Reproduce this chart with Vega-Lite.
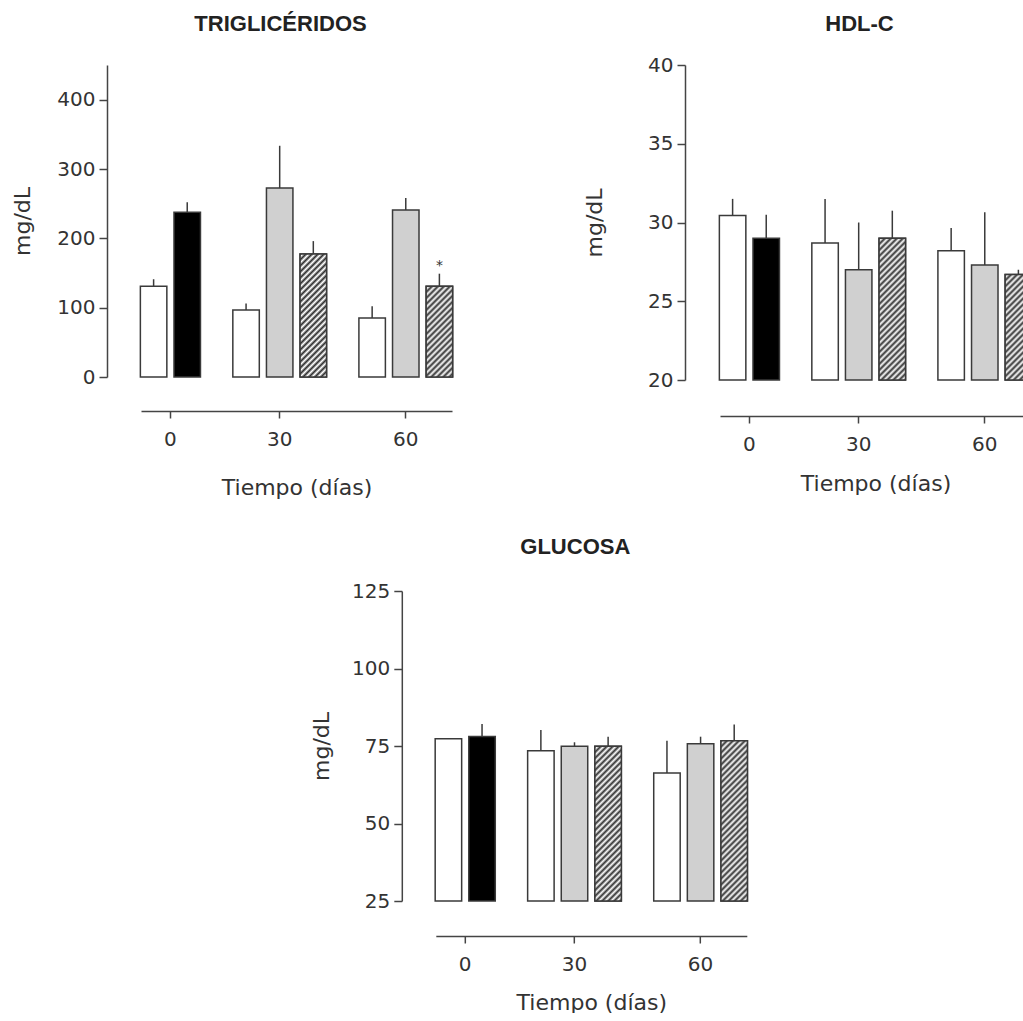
{
  "$schema": "https://vega.github.io/schema/vega-lite/v6.json",
  "padding": {"left": 11, "top": 13, "right": 0, "bottom": 0},
  "params": [
    {"name": "rayas", "value": [
      {"offset": 0, "color": "#303030"}, {"offset": 0.0125, "color": "#ffffff"},
      {"offset": 0.025, "color": "#303030"}, {"offset": 0.0375, "color": "#ffffff"},
      {"offset": 0.05, "color": "#303030"}, {"offset": 0.0625, "color": "#ffffff"},
      {"offset": 0.075, "color": "#303030"}, {"offset": 0.0875, "color": "#ffffff"},
      {"offset": 0.1, "color": "#303030"}, {"offset": 0.1125, "color": "#ffffff"},
      {"offset": 0.125, "color": "#303030"}, {"offset": 0.1375, "color": "#ffffff"},
      {"offset": 0.15, "color": "#303030"}, {"offset": 0.1625, "color": "#ffffff"},
      {"offset": 0.175, "color": "#303030"}, {"offset": 0.1875, "color": "#ffffff"},
      {"offset": 0.2, "color": "#303030"}, {"offset": 0.2125, "color": "#ffffff"},
      {"offset": 0.225, "color": "#303030"}, {"offset": 0.2375, "color": "#ffffff"},
      {"offset": 0.25, "color": "#303030"}, {"offset": 0.2625, "color": "#ffffff"},
      {"offset": 0.275, "color": "#303030"}, {"offset": 0.2875, "color": "#ffffff"},
      {"offset": 0.3, "color": "#303030"}, {"offset": 0.3125, "color": "#ffffff"},
      {"offset": 0.325, "color": "#303030"}, {"offset": 0.3375, "color": "#ffffff"},
      {"offset": 0.35, "color": "#303030"}, {"offset": 0.3625, "color": "#ffffff"},
      {"offset": 0.375, "color": "#303030"}, {"offset": 0.3875, "color": "#ffffff"},
      {"offset": 0.4, "color": "#303030"}, {"offset": 0.4125, "color": "#ffffff"},
      {"offset": 0.425, "color": "#303030"}, {"offset": 0.4375, "color": "#ffffff"},
      {"offset": 0.45, "color": "#303030"}, {"offset": 0.4625, "color": "#ffffff"},
      {"offset": 0.475, "color": "#303030"}, {"offset": 0.4875, "color": "#ffffff"},
      {"offset": 0.5, "color": "#303030"}, {"offset": 0.5125, "color": "#ffffff"},
      {"offset": 0.525, "color": "#303030"}, {"offset": 0.5375, "color": "#ffffff"},
      {"offset": 0.55, "color": "#303030"}, {"offset": 0.5625, "color": "#ffffff"},
      {"offset": 0.575, "color": "#303030"}, {"offset": 0.5875, "color": "#ffffff"},
      {"offset": 0.6, "color": "#303030"}, {"offset": 0.6125, "color": "#ffffff"},
      {"offset": 0.625, "color": "#303030"}, {"offset": 0.6375, "color": "#ffffff"},
      {"offset": 0.65, "color": "#303030"}, {"offset": 0.6625, "color": "#ffffff"},
      {"offset": 0.675, "color": "#303030"}, {"offset": 0.6875, "color": "#ffffff"},
      {"offset": 0.7, "color": "#303030"}, {"offset": 0.7125, "color": "#ffffff"},
      {"offset": 0.725, "color": "#303030"}, {"offset": 0.7375, "color": "#ffffff"},
      {"offset": 0.75, "color": "#303030"}, {"offset": 0.7625, "color": "#ffffff"},
      {"offset": 0.775, "color": "#303030"}, {"offset": 0.7875, "color": "#ffffff"},
      {"offset": 0.8, "color": "#303030"}
    ]}
  ],
  "data": {"values": [
    {"analito": "TRIGLICÉRIDOS", "tiempo": 0, "grupo": "Control", "media": 131, "sup": 141, "sig": ""},
    {"analito": "TRIGLICÉRIDOS", "tiempo": 0, "grupo": "Basal", "media": 237.5, "sup": 252, "sig": ""},
    {"analito": "TRIGLICÉRIDOS", "tiempo": 30, "grupo": "Control", "media": 96.5, "sup": 106, "sig": ""},
    {"analito": "TRIGLICÉRIDOS", "tiempo": 30, "grupo": "Tratamiento A", "media": 272.5, "sup": 333.5, "sig": ""},
    {"analito": "TRIGLICÉRIDOS", "tiempo": 30, "grupo": "Tratamiento B", "media": 177.5, "sup": 196, "sig": ""},
    {"analito": "TRIGLICÉRIDOS", "tiempo": 60, "grupo": "Control", "media": 85, "sup": 102, "sig": ""},
    {"analito": "TRIGLICÉRIDOS", "tiempo": 60, "grupo": "Tratamiento A", "media": 241, "sup": 258, "sig": ""},
    {"analito": "TRIGLICÉRIDOS", "tiempo": 60, "grupo": "Tratamiento B", "media": 131, "sup": 149, "sig": "*"},
    {"analito": "HDL-C", "tiempo": 0, "grupo": "Control", "media": 30.45, "sup": 31.5, "sig": ""},
    {"analito": "HDL-C", "tiempo": 0, "grupo": "Basal", "media": 29.0, "sup": 30.5, "sig": ""},
    {"analito": "HDL-C", "tiempo": 30, "grupo": "Control", "media": 28.7, "sup": 31.5, "sig": ""},
    {"analito": "HDL-C", "tiempo": 30, "grupo": "Tratamiento A", "media": 27.0, "sup": 30.0, "sig": ""},
    {"analito": "HDL-C", "tiempo": 30, "grupo": "Tratamiento B", "media": 29.0, "sup": 30.75, "sig": ""},
    {"analito": "HDL-C", "tiempo": 60, "grupo": "Control", "media": 28.2, "sup": 29.65, "sig": ""},
    {"analito": "HDL-C", "tiempo": 60, "grupo": "Tratamiento A", "media": 27.3, "sup": 30.65, "sig": ""},
    {"analito": "HDL-C", "tiempo": 60, "grupo": "Tratamiento B", "media": 26.7, "sup": 27.0, "sig": ""},
    {"analito": "GLUCOSA", "tiempo": 0, "grupo": "Control", "media": 77.3, "sup": 77.3, "sig": ""},
    {"analito": "GLUCOSA", "tiempo": 0, "grupo": "Basal", "media": 78.1, "sup": 82.1, "sig": ""},
    {"analito": "GLUCOSA", "tiempo": 30, "grupo": "Control", "media": 73.5, "sup": 80.2, "sig": ""},
    {"analito": "GLUCOSA", "tiempo": 30, "grupo": "Tratamiento A", "media": 74.9, "sup": 76.2, "sig": ""},
    {"analito": "GLUCOSA", "tiempo": 30, "grupo": "Tratamiento B", "media": 74.9, "sup": 78.0, "sig": ""},
    {"analito": "GLUCOSA", "tiempo": 60, "grupo": "Control", "media": 66.3, "sup": 76.7, "sig": ""},
    {"analito": "GLUCOSA", "tiempo": 60, "grupo": "Tratamiento A", "media": 75.7, "sup": 78.0, "sig": ""},
    {"analito": "GLUCOSA", "tiempo": 60, "grupo": "Tratamiento B", "media": 76.7, "sup": 81.9, "sig": ""}
  ]},
  "spacing": 38,
  "center": true,
  "vconcat": [
    {
      "spacing": 129,
      "hconcat": [
        {
          "width": 311, "height": 312,
          "title": {"text": "TRIGLICÉRIDOS", "frame": "group", "dx": -16, "offset": 29},
          "transform": [
            {"filter": "datum.analito === 'TRIGLICÉRIDOS'"},
            {"calculate": "datum.tiempo + '|' + datum.grupo", "as": "barra"}
          ],
          "encoding": {
            "x": {"field": "barra", "type": "nominal",
              "scale": {"domain": ["0|Control","·1","0","·3","0|Basal","·5","·6","·7","·8","·9","·10","30|Control","·12","·13","·14","30|Tratamiento A","·16","·17","·18","30|Tratamiento B","·20","·21","·22","·23","·24","·25","60|Control","·27","·28","·29","60|Tratamiento A","·31","·32","·33","60|Tratamiento B"], "paddingInner": 0, "paddingOuter": 1},
              "axis": {"values": ["0", "30|Tratamiento A", "60|Tratamiento A"], "labelExpr": "split(datum.value, '|')[0]", "title": "Tiempo (días)"}}
          },
          "layer": [
            {"mark": {"type": "bar", "width": {"band": 3.15}, "stroke": "#3a3a3a", "strokeWidth": 1.5},
             "encoding": {
               "y": {"field": "media", "type": "quantitative", "title": "mg/dL", "scale": {"domain": [0, 450], "nice": false, "zero": false}, "axis": {"values": [0, 100, 200, 300, 400], "titlePadding": 22}},
               "y2": {"datum": 0},
               "color": {"field": "grupo", "type": "nominal", "legend": null, "scale": {"domain": ["Control", "Basal", "Tratamiento A", "Tratamiento B"], "range": ["#ffffff", "#000000", "#d0d0d0", "#ffffff"]}}
             }},
            {"transform": [{"filter": "datum.grupo === 'Tratamiento B'"}],
             "mark": {"type": "bar", "width": {"band": 3.15}, "stroke": "#3a3a3a", "strokeWidth": 1.5,
               "fill": {"expr": "{gradient: 'linear', x1: 0, y1: 0, x2: 240*26.5/(702.25 + pow(datum.media*0.693333, 2)), y2: 240*datum.media*0.693333/(702.25 + pow(datum.media*0.693333, 2)), stops: rayas}"}},
             "encoding": {"y": {"field": "media", "type": "quantitative", "title": "mg/dL"}, "y2": {"datum": 0}}},
            {"mark": {"type": "rule", "stroke": "#3a3a3a", "strokeWidth": 1.5},
             "encoding": {"y": {"field": "media", "type": "quantitative", "title": "mg/dL"}, "y2": {"field": "sup"}}},
            {"mark": {"type": "text", "baseline": "bottom", "dy": -1, "fontSize": 14, "font": "DejaVu Sans", "color": "#333"},
             "encoding": {"y": {"field": "sup", "type": "quantitative", "title": "mg/dL"}, "text": {"field": "sig"}}}
          ]
        },
        {
          "width": 311, "height": 315,
          "title": {"text": "HDL-C", "frame": "group", "dx": -16, "offset": 19},
          "transform": [
            {"filter": "datum.analito === 'HDL-C'"},
            {"calculate": "datum.tiempo + '|' + datum.grupo", "as": "barra"}
          ],
          "resolve": {"axis": {"y": "independent"}},
          "encoding": {
            "x": {"field": "barra", "type": "nominal",
              "scale": {"domain": ["0|Control","·1","0","·3","0|Basal","·5","·6","·7","·8","·9","·10","30|Control","·12","·13","·14","30|Tratamiento A","·16","·17","·18","30|Tratamiento B","·20","·21","·22","·23","·24","·25","60|Control","·27","·28","·29","60|Tratamiento A","·31","·32","·33","60|Tratamiento B"], "paddingInner": 0, "paddingOuter": 1},
              "axis": {"values": ["0", "30|Tratamiento A", "60|Tratamiento A"], "labelExpr": "split(datum.value, '|')[0]", "title": "Tiempo (días)", "offset": 36, "titlePadding": 19}}
          },
          "layer": [
            {"mark": {"type": "bar", "width": {"band": 3.15}, "stroke": "#3a3a3a", "strokeWidth": 1.5},
             "encoding": {
               "y": {"field": "media", "type": "quantitative", "title": "mg/dL", "scale": {"domain": [20, 40], "nice": false, "zero": false}, "axis": {"orient": "left", "values": [20, 25, 30, 35, 40], "titlePadding": 41, "offset": 35}},
               "y2": {"datum": 20},
               "color": {"field": "grupo", "type": "nominal", "legend": null, "scale": {"domain": ["Control", "Basal", "Tratamiento A", "Tratamiento B"], "range": ["#ffffff", "#000000", "#d0d0d0", "#ffffff"]}}
             }},
            {"transform": [{"filter": "datum.grupo === 'Tratamiento B'"}],
             "mark": {"type": "bar", "width": {"band": 3.15}, "stroke": "#3a3a3a", "strokeWidth": 1.5,
               "fill": {"expr": "{gradient: 'linear', x1: 0, y1: 0, x2: 240*26.5/(702.25 + pow((datum.media-20)*15.75, 2)), y2: 240*(datum.media-20)*15.75/(702.25 + pow((datum.media-20)*15.75, 2)), stops: rayas}"}},
             "encoding": {"y": {"field": "media", "type": "quantitative", "title": "mg/dL", "axis": null}, "y2": {"datum": 20}}},
            {"mark": {"type": "rule", "stroke": "#3a3a3a", "strokeWidth": 1.5},
             "encoding": {"y": {"field": "media", "type": "quantitative", "axis": {"orient": "right", "offset": 12, "labels": false, "ticks": false, "title": null}}, "y2": {"field": "sup"}}}
          ]
        }
      ]
    },
    {
      "width": 311, "height": 310,
      "title": {"text": "GLUCOSA", "frame": "group", "dx": -16, "offset": 22},
      "transform": [
        {"filter": "datum.analito === 'GLUCOSA'"},
        {"calculate": "datum.tiempo + '|' + datum.grupo", "as": "barra"}
      ],
      "encoding": {
        "x": {"field": "barra", "type": "nominal",
          "scale": {"domain": ["0|Control","·1","0","·3","0|Basal","·5","·6","·7","·8","·9","·10","30|Control","·12","·13","·14","30|Tratamiento A","·16","·17","·18","30|Tratamiento B","·20","·21","·22","·23","·24","·25","60|Control","·27","·28","·29","60|Tratamiento A","·31","·32","·33","60|Tratamiento B"], "paddingInner": 0, "paddingOuter": 1},
          "axis": {"values": ["0", "30|Tratamiento A", "60|Tratamiento A"], "labelExpr": "split(datum.value, '|')[0]", "title": "Tiempo (días)", "offset": 35, "titlePadding": 18}}
      },
      "layer": [
        {"mark": {"type": "bar", "width": {"band": 3.15}, "stroke": "#3a3a3a", "strokeWidth": 1.5},
         "encoding": {
           "y": {"field": "media", "type": "quantitative", "title": "mg/dL", "scale": {"domain": [25, 125], "nice": false, "zero": false}, "axis": {"values": [25, 50, 75, 100, 125], "titlePadding": 18}},
           "y2": {"datum": 25},
           "color": {"field": "grupo", "type": "nominal", "legend": null, "scale": {"domain": ["Control", "Basal", "Tratamiento A", "Tratamiento B"], "range": ["#ffffff", "#000000", "#d0d0d0", "#ffffff"]}}
         }},
        {"transform": [{"filter": "datum.grupo === 'Tratamiento B'"}],
         "mark": {"type": "bar", "width": {"band": 3.15}, "stroke": "#3a3a3a", "strokeWidth": 1.5,
           "fill": {"expr": "{gradient: 'linear', x1: 0, y1: 0, x2: 240*26.5/(702.25 + pow((datum.media-25)*3.1, 2)), y2: 240*(datum.media-25)*3.1/(702.25 + pow((datum.media-25)*3.1, 2)), stops: rayas}"}},
         "encoding": {"y": {"field": "media", "type": "quantitative", "title": "mg/dL"}, "y2": {"datum": 25}}},
        {"mark": {"type": "rule", "stroke": "#3a3a3a", "strokeWidth": 1.5},
         "encoding": {"y": {"field": "media", "type": "quantitative", "title": "mg/dL"}, "y2": {"field": "sup"}}}
      ]
    }
  ],
  "config": {
    "view": {"stroke": null},
    "axis": {"grid": false, "domainColor": "#444444", "domainWidth": 1.5, "tickColor": "#444444", "tickWidth": 1.5,
      "labelFont": "DejaVu Sans", "labelFontSize": 20, "labelColor": "#333333",
      "titleFont": "DejaVu Sans", "titleFontSize": 22, "titleFontWeight": "normal", "titleColor": "#333333"},
    "axisX": {"offset": 34, "tickSize": 7, "labelPadding": 11, "titlePadding": 28, "labelAngle": 0},
    "axisY": {"offset": 34, "tickSize": 8, "labelPadding": 4},
    "title": {"font": "Liberation Sans", "fontSize": 22, "fontWeight": "bold", "color": "#222222", "anchor": "middle"}
  }
}
